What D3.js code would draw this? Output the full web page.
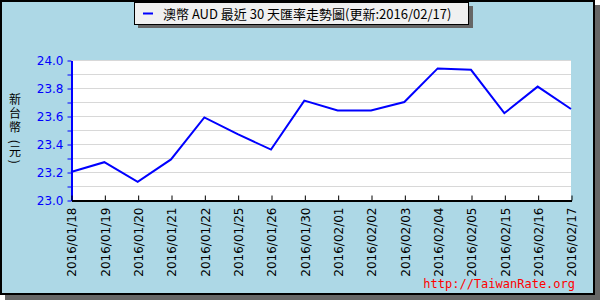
<!DOCTYPE html>
<html>
<head>
<meta charset="utf-8">
<title>澳幣 AUD 最近30天匯率走勢圖</title>
<script src="https://d3js.org/d3.v7.min.js"></script>
<style>
    body {margin: 0; background: white;}
    svg text {font-family: "DejaVu Sans", "Noto Sans CJK TC", sans-serif;}
</style>
</head>
<body>
<svg width="600" height="300"></svg>
<script>
// values
var dates = ["2016/01/18","2016/01/19","2016/01/20","2016/01/21","2016/01/22","2016/01/25","2016/01/26","2016/01/30",
             "2016/02/01","2016/02/02","2016/02/03","2016/02/04","2016/02/05","2016/02/15","2016/02/16","2016/02/17"];
var rates = [23.20, 23.27, 23.13, 23.29, 23.59, 23.47, 23.36, 23.71,
             23.64, 23.64, 23.70, 23.94, 23.93, 23.62, 23.81, 23.65];
var yTicks = [23.0, 23.1, 23.2, 23.3, 23.4, 23.5, 23.6, 23.7, 23.8, 23.9, 24.0];
var yLabels = [23.0, 23.2, 23.4, 23.6, 23.8, 24.0];
var yTitle = "新台幣 (元)";

var svg = d3.select("svg");

// frame with shadow
svg.append("rect").attr("x", 5).attr("y", 5).attr("width", 595).attr("height", 295).attr("fill", "#666");
svg.append("rect").attr("x", 1).attr("y", 1).attr("width", 593).attr("height", 293)
    .attr("fill", "#add8e6").attr("stroke", "black").attr("stroke-width", 2);

var xs = d3.scalePoint().domain(dates).range([71, 571]);
var ys = d3.scaleLinear().domain([23, 24]).range([200, 60]);

// plot area
svg.append("rect").attr("x", 71).attr("y", 60).attr("width", 500).attr("height", 140).attr("fill", "white");

svg.append("g").selectAll("line")
    .data(yTicks)
    .enter()
    .append("line")
        .attr("x1", 71).attr("x2", 571)
        .attr("y1", function(d){return ys(d) + 0.5})
        .attr("y2", function(d){return ys(d) + 0.5})
        .attr("stroke", "#d8d8d8");

// y axis
var yAxis = svg.append("g")
    .attr("transform", "translate(71.5,0.5)")
    .call(d3.axisLeft(ys).tickValues(yTicks).tickSize(4).tickSizeOuter(0).tickFormat(function(d){
        return yLabels.some(function(v){return Math.abs(v - d) < 1e-6}) ? d3.format(".1f")(d) : "";
    }));
yAxis.select(".domain").attr("stroke", "blue").attr("stroke-width", 2);
yAxis.selectAll(".tick line").attr("stroke", "blue");
yAxis.selectAll(".tick text").attr("fill", "blue").attr("font-size", 12).attr("x", -8)
    .style("font-family", "'DejaVu Sans', sans-serif");

// x axis
var xAxis = svg.append("g")
    .attr("transform", "translate(0.5,200.5)")
    .call(d3.axisBottom(xs).tickSize(-5).tickSizeOuter(0));
xAxis.select(".domain").attr("stroke", "black").attr("stroke-width", 2);
xAxis.selectAll(".tick line").attr("stroke", "black");
xAxis.selectAll(".tick text")
    .attr("fill", "black")
    .attr("font-size", 12)
    .attr("transform", "rotate(-90)")
    .attr("text-anchor", "end")
    .attr("x", -7)
    .attr("y", 0)
    .attr("dy", "0.35em");

// rate line
svg.append("path")
    .datum(rates)
    .attr("fill", "none")
    .attr("stroke", "blue")
    .attr("stroke-width", 2)
    .attr("d", d3.line()
        .x(function(d, i){return xs(dates[i])})
        .y(function(d){return ys(d)}));

// y title, vertical writing
svg.append("text")
    .attr("x", 15)
    .attr("y", 93)
    .attr("font-size", 12)
    .attr("fill", "black")
    .style("writing-mode", "vertical-rl")
    .style("text-orientation", "mixed")
    .style("letter-spacing", "2px")
    .style("font-family", "'Noto Sans CJK TC', sans-serif")
    .text(yTitle);

// legend / title box
svg.append("rect").attr("x", 138).attr("y", 6).attr("width", 335).attr("height", 22).attr("fill", "#666");
svg.append("rect").attr("x", 134.5).attr("y", 2.5).attr("width", 334).attr("height", 22)
    .attr("fill", "#f0f0f0").attr("stroke", "black");
svg.append("line").attr("x1", 143).attr("x2", 153).attr("y1", 13.5).attr("y2", 13.5)
    .attr("stroke", "blue").attr("stroke-width", 2);
svg.append("text")
    .attr("x", 163).attr("y", 19)
    .attr("font-size", 13)
    .attr("fill", "black")
    .style("font-family", "'Noto Sans CJK TC', 'DejaVu Sans', sans-serif")
    .text("澳幣 AUD 最近 30 天匯率走勢圖(更新:2016/02/17)");

// footer
svg.append("text")
    .attr("x", 575).attr("y", 288)
    .attr("text-anchor", "end")
    .attr("font-size", 12)
    .attr("fill", "red")
    .style("font-family", "'DejaVu Sans Mono', monospace")
    .text("http://TaiwanRate.org");
</script>
</body>
</html>
